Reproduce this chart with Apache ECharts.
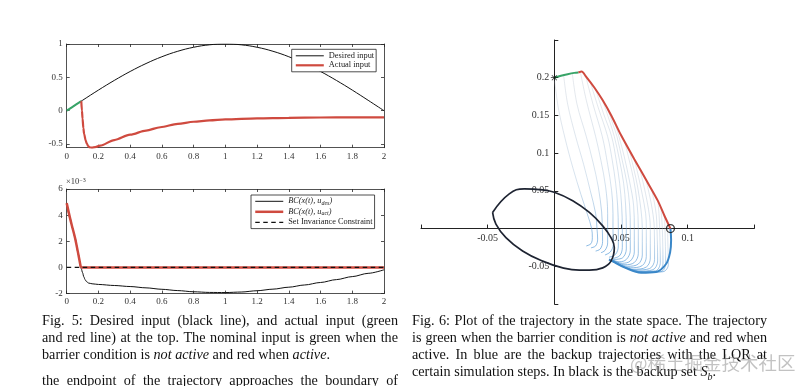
<!DOCTYPE html>
<html><head><meta charset="utf-8">
<script src="https://cdn.jsdelivr.net/npm/echarts@6/dist/echarts.min.js"></script>
<style>
html,body{margin:0;padding:0;background:#fff;}
#wrap{position:relative;width:809px;height:386px;overflow:hidden;background:#fff;}
#chart{position:absolute;left:0;top:0;width:809px;height:386px;}
.cap{position:absolute;font-family:'Liberation Serif','Times New Roman',serif;font-size:14.2px;line-height:17px;color:#111;}
.cap div{white-space:nowrap;}
.cap .j{text-align:justify;text-align-last:justify;}
.wm{position:absolute;left:630px;top:349px;font-family:'Noto Sans CJK SC',sans-serif;font-size:18.5px;color:rgba(120,120,120,0.45);white-space:nowrap;}
</style></head><body>
<div id="wrap">
<div id="chart"></div>
<div class="cap" style="left:42px;top:311.5px;width:356px">
  <div class="j">Fig. 5: Desired input (black line), and actual input (green</div>
  <div class="j">and red line) at the top. The nominal input is green when the</div>
  <div>barrier condition is <i>not active</i> and red when <i>active</i>.</div>
  <div class="j" style="margin-top:9px">the endpoint of the trajectory approaches the boundary of</div>
</div>
<div class="cap" style="left:412px;top:311.5px;width:355px">
  <div class="j">Fig. 6: Plot of the trajectory in the state space. The trajectory</div>
  <div class="j">is green when the barrier condition is <i>not active</i> and red when</div>
  <div class="j">active. In blue are the backup trajectories with the LQR at</div>
  <div>certain simulation steps. In black is the backup set <i>S<sub style="font-size:10px">b</sub></i>.</div>
</div>
<div class="wm">@稀土掘金技术社区</div>
</div>
<script>
const SERIF = "'Liberation Serif','Times New Roman',serif";

// ---------- Fig. 5 top: inputs ----------
const tDesired = [0,0.1,0.2,0.3,0.4,0.5,0.6,0.7,0.8,0.9,1.0,1.1,1.2,1.3,1.4,1.5,1.6,1.7,1.8,1.9,2.0];
const uDesired = [0,0.156,0.309,0.454,0.588,0.707,0.809,0.891,0.951,0.988,1.0,0.988,0.951,0.891,0.809,0.707,0.588,0.454,0.309,0.156,0.0];
const tActualGreen = [0,0.03,0.06,0.092];
const uActualGreen = [0,0.047,0.094,0.144];
const tActualRed = [0.092,0.096,0.1,0.105,0.11,0.12,0.126,0.135,0.145,0.158,0.18,0.21,0.3,0.4,0.5,0.59,0.7,0.8,0.9,1.0,1.2,1.4,1.6,1.8,2.0];
const uActualRed = [0.144,0.0,-0.12,-0.26,-0.35,-0.45,-0.49,-0.53,-0.55,-0.555,-0.545,-0.525,-0.44,-0.36,-0.298,-0.248,-0.198,-0.166,-0.146,-0.131,-0.115,-0.107,-0.102,-0.1,-0.1];
const topYTicks = [-0.5,0,0.5,1];

// ---------- Fig. 5 bottom: barrier condition (x 1e-3) ----------
const tBcAct = [0,0.021,0.037,0.053,0.074,0.088,0.092];
const bcAct = [4.92,3.77,3.0,2.24,0.97,0.08,0];
const tBcActFlat = [0.092,2.0];
const bcActFlat = [0,0];
const tBcDes = [0,0.021,0.037,0.053,0.074,0.088,0.092,0.1,0.108,0.116,0.125,0.137,0.16,0.2,0.3,0.4,0.5,0.6,0.7,0.8,0.9,1.0,1.1,1.2,1.3,1.4,1.5,1.6,1.7,1.8,1.9,2.0];
const bcDes = [4.92,3.77,3.0,2.24,0.97,0.08,-0.1,-0.4,-0.72,-0.94,-1.08,-1.19,-1.25,-1.3,-1.38,-1.46,-1.56,-1.67,-1.77,-1.86,-1.91,-1.92,-1.88,-1.78,-1.66,-1.51,-1.34,-1.15,-0.93,-0.7,-0.45,-0.18];
const tConstraint = [0,2];
const constraint = [0,0];

// ---------- Fig. 6: state space ----------
const trajGreen = [[0,0.2],[0.005,0.2026],[0.010,0.2047],[0.015,0.2064],[0.018,0.207]];
const trajRed = [[0.018,0.207],[0.0205,0.2082],[0.0238,0.2015],[0.030,0.187],[0.0363,0.170],[0.043,0.149],[0.050,0.124],[0.060,0.092],[0.0687,0.065],[0.0776,0.037],[0.0826,0.017],[0.0871,0]];
const startPoint = [[0,0.2]];
const endPoint = [[0.0871,0]];
const backupSet = [[-0.0463,0.0214],[-0.0338,0.046],[-0.0225,0.0527],[-0.0088,0.0513],[0,0.0481],[0.0138,0.037],[0.0263,0.0214],[0.0363,0.0036],[0.0425,-0.012],[0.045,-0.0254],[0.0425,-0.0432],[0.0363,-0.0521],[0.0263,-0.0552],[0.0188,-0.0552],[0.0063,-0.0521],[-0.0088,-0.0432],[-0.0238,-0.0298],[-0.0363,-0.012],[-0.0438,0.0059],[-0.0463,0.0214]];
const backupTrajectories = [
  [[0,0.2],[0.003,0.16],[0.008,0.12],[0.014,0.08],[0.020,0.045],[0.025,0.018],[0.028,0.0],[0.0285,-0.012],[0.0275,-0.020],[0.024,-0.023]],
  [[0.007,0.2033],[0.010,0.165],[0.016,0.122],[0.022,0.085],[0.027,0.05],[0.031,0.02],[0.032,0.0],[0.0325,-0.014],[0.031,-0.023],[0.0275,-0.0255]],
  [[0.0135,0.2058],[0.017,0.165],[0.024,0.122],[0.029,0.088],[0.033,0.055],[0.0355,0.022],[0.036,0.0],[0.0362,-0.017],[0.0345,-0.027],[0.031,-0.0298]],
  [[0.0195,0.208],[0.024,0.17],[0.031,0.122],[0.035,0.09],[0.0385,0.055],[0.040,0.02],[0.040,0.0],[0.040,-0.019],[0.038,-0.029],[0.035,-0.032]],
  [[0.0235,0.2025],[0.029,0.165],[0.036,0.122],[0.040,0.085],[0.043,0.05],[0.044,0.02],[0.044,0.0],[0.0442,-0.021],[0.042,-0.031],[0.038,-0.035]],
  [[0.027,0.194],[0.033,0.16],[0.040,0.122],[0.0435,0.09],[0.046,0.06],[0.0475,0.03],[0.048,0.0],[0.048,-0.023],[0.046,-0.034],[0.041,-0.038]],
  [[0.031,0.1845],[0.037,0.152],[0.043,0.122],[0.0465,0.09],[0.049,0.06],[0.0505,0.03],[0.051,0.0],[0.051,-0.025],[0.049,-0.036],[0.043,-0.040]],
  [[0.036,0.171],[0.041,0.145],[0.045,0.122],[0.049,0.09],[0.052,0.06],[0.0535,0.03],[0.054,0.0],[0.054,-0.027],[0.051,-0.039],[0.044,-0.041]],
  [[0.040,0.158],[0.044,0.138],[0.047,0.122],[0.051,0.09],[0.0545,0.06],[0.0565,0.03],[0.057,0.0],[0.057,-0.029],[0.054,-0.041],[0.049,-0.044],[0.044,-0.042]],
  [[0.045,0.142],[0.0485,0.122],[0.0525,0.095],[0.0565,0.062],[0.0595,0.03],[0.060,0.0],[0.060,-0.031],[0.057,-0.043],[0.051,-0.046],[0.044,-0.042]],
  [[0.0528,0.115],[0.056,0.092],[0.0595,0.065],[0.062,0.035],[0.063,0.0],[0.063,-0.033],[0.060,-0.045],[0.053,-0.048],[0.044,-0.042]],
  [[0.056,0.1048],[0.0595,0.08],[0.0625,0.055],[0.065,0.025],[0.066,0.0],[0.066,-0.035],[0.063,-0.047],[0.055,-0.050],[0.044,-0.043]],
  [[0.060,0.092],[0.063,0.07],[0.066,0.045],[0.0685,0.02],[0.069,0.0],[0.069,-0.037],[0.066,-0.049],[0.057,-0.052],[0.044,-0.043]],
  [[0.064,0.0796],[0.067,0.058],[0.0697,0.035],[0.0715,0.015],[0.072,0.0],[0.072,-0.039],[0.069,-0.051],[0.059,-0.054],[0.044,-0.043]],
  [[0.0687,0.065],[0.0713,0.045],[0.0735,0.025],[0.075,0.0],[0.0752,-0.041],[0.0715,-0.053],[0.061,-0.055],[0.052,-0.0505],[0.0435,-0.043]],
  [[0.073,0.0515],[0.075,0.035],[0.0765,0.018],[0.077,0.0],[0.0775,-0.043],[0.074,-0.0545],[0.063,-0.0565],[0.052,-0.051],[0.0435,-0.043]],
  [[0.0776,0.037],[0.0785,0.02],[0.079,0.0],[0.0795,-0.045],[0.076,-0.056],[0.064,-0.057],[0.052,-0.051],[0.0435,-0.043]],
  [[0.080,0.0274],[0.081,0.0],[0.0815,-0.046],[0.078,-0.0565],[0.066,-0.0575],[0.053,-0.0515],[0.0435,-0.043]],
  [[0.0826,0.017],[0.083,0.0],[0.0835,-0.047],[0.080,-0.057],[0.067,-0.058],[0.054,-0.052],[0.0435,-0.043]],
  [[0.085,0.0079],[0.085,0.0],[0.0855,-0.048],[0.0815,-0.0572],[0.068,-0.058],[0.054,-0.052],[0.0435,-0.043]],
  [[0.0871,0],[0.0876,-0.015],[0.0868,-0.032],[0.0838,-0.047],[0.0763,-0.0575],[0.065,-0.0585],[0.0538,-0.0525],[0.0438,-0.0435],[0.041,-0.041]]
];
const stateXTicksShown = [-0.05,0.05,0.1];
const stateYTicksShown = [-0.05,0.05,0.1,0.15,0.2];
const stateXRange = [-0.1, 0.15];
const stateYRange = [-0.1, 0.25];

// ---------- helpers ----------
const pairs = (xs, ys) => xs.map((x, i) => [x, ys[i]]);
const AX = '#262626';
function xAx(grid, pos, labels, extra) {
  return Object.assign({
    type: 'value', gridIndex: grid, position: pos, min: 0, max: 2, interval: 0.2,
    axisLine: {onZero: false, lineStyle: {color: AX, width: 0.8}},
    axisTick: {inside: true, length: 3, lineStyle: {color: AX, width: 0.8}},
    splitLine: {show: false},
    axisLabel: {show: labels, fontFamily: SERIF, fontSize: 9, color: '#333', margin: 4}
  }, extra || {});
}
function yAx(grid, pos, labels, extra) {
  return Object.assign({
    type: 'value', gridIndex: grid, position: pos,
    axisLine: {onZero: false, lineStyle: {color: AX, width: 0.8}},
    axisTick: {inside: true, length: 3, lineStyle: {color: AX, width: 0.8}},
    splitLine: {show: false},
    axisLabel: {show: labels, fontFamily: SERIF, fontSize: 9, color: '#333', margin: 4}
  }, extra || {});
}
function ln(name, xi, yi, data, color, width, extra) {
  return Object.assign({
    name: name, type: 'line', xAxisIndex: xi, yAxisIndex: yi, data: data,
    symbol: 'none', showSymbol: false, silent: true, animation: false,
    lineStyle: {color: color, width: width}, itemStyle: {color: color}
  }, extra || {});
}
const fmt = v => String(parseFloat(Number(v).toFixed(3)));
const has = (arr, v) => arr.some(a => Math.abs(a - v) < 1e-9);

const RED = '#cf4a3f', GREEN = '#38a468', BLACK = '#111';

// state-space grid geometry (axes sit on the zero lines, like MATLAB "origin" axes)
const G3 = {left: 421, top: 40, width: 333.3, height: 264};
const xAxisOffset = -G3.height * (0 - stateYRange[0]) / (stateYRange[1] - stateYRange[0]);
const yAxisOffset = -G3.width * (0 - stateXRange[0]) / (stateXRange[1] - stateXRange[0]);

const series = [];
// Fig 5 top
series.push(ln('Desired input', 0, 0, pairs(tDesired, uDesired), BLACK, 1, {smooth: 0.4}));
series.push(ln('greenActual', 0, 0, pairs(tActualGreen, uActualGreen), GREEN, 2));
series.push(ln('Actual input', 0, 0, pairs(tActualRed, uActualRed), RED, 2.2, {smooth: 0.3, smoothMonotone: 'x'}));
// Fig 5 bottom
series.push(ln('bcDes', 2, 2, pairs(tBcDes, bcDes), BLACK, 1, {smooth: 0.3, smoothMonotone: 'x'}));
series.push(ln('bcAct', 2, 2, pairs(tBcAct, bcAct), RED, 2.5, {smooth: 0.3}));
series.push(ln('bcActFlat', 2, 2, pairs(tBcActFlat, bcActFlat), RED, 2.5));
series.push(ln('Set Invariance Constraint', 2, 2, pairs(tConstraint, constraint), BLACK, 1.3, {lineStyle: {color: BLACK, width: 1.3, type: [4.5, 3.5]}}));
// Fig 6
const fanGrad = {type: 'linear', x: 0, y: 0, x2: 0, y2: 1, colorStops: [
  {offset: 0, color: 'rgba(178,186,198,0.45)'},
  {offset: 0.6, color: 'rgba(150,182,212,0.55)'},
  {offset: 1, color: 'rgba(60,140,210,0.9)'}]};
backupTrajectories.forEach((tr, i) => {
  const last = i === backupTrajectories.length - 1;
  series.push(ln('backup' + i, 4, 4, tr, last ? '#3a87c8' : fanGrad, last ? 2 : 0.7, {smooth: 0.35, z: 2}));
});
series.push(ln('backupSet', 4, 4, backupSet, '#1e2432', 1.7, {smooth: 0.45, z: 3}));
series.push(ln('trajRed', 4, 4, trajRed, RED, 2, {smooth: 0.25, z: 4}));
series.push(ln('trajGreen', 4, 4, trajGreen, GREEN, 2, {smooth: 0.3, z: 4}));
series.push({type: 'scatter', xAxisIndex: 4, yAxisIndex: 4, data: startPoint, silent: true, animation: false, z: 5,
  symbol: 'path://M4.5,0h1v10h-1z M0,4.5h10v1h-10z M1.1,1.8L1.8,1.1L8.9,8.2L8.2,8.9Z M8.2,1.1L8.9,1.8L1.8,8.9L1.1,8.2Z',
  symbolSize: 7, itemStyle: {color: '#000'}});
series.push({type: 'scatter', xAxisIndex: 4, yAxisIndex: 4, data: endPoint, silent: true, animation: false, z: 5,
  symbol: 'circle', symbolSize: 8, itemStyle: {color: 'rgba(0,0,0,0)', borderColor: '#111', borderWidth: 1.3}});

const legendCommon = {
  orient: 'vertical', selectedMode: false, backgroundColor: '#fff', borderColor: '#222', borderWidth: 0.8, borderRadius: 0,
  itemWidth: 28, itemGap: 1.5, itemStyle: {opacity: 0}, lineStyle: {width: 'inherit'}
};

const option = {
  backgroundColor: '#fff',
  animation: false,
  grid: [
    {left: 66.7, top: 44, width: 317.3, height: 103.7, outerBoundsMode: 'none', containLabel: false},
    {left: 66.7, top: 189, width: 317.3, height: 104.6, outerBoundsMode: 'none', containLabel: false},
    Object.assign({outerBoundsMode: 'none', containLabel: false}, G3)
  ],
  xAxis: [
    xAx(0, 'bottom', true),
    xAx(0, 'top', false),
    xAx(1, 'bottom', true),
    xAx(1, 'top', false),
    {
      type: 'value', gridIndex: 2, position: 'bottom', offset: xAxisOffset,
      min: stateXRange[0], max: stateXRange[1], interval: 0.05,
      axisLine: {onZero: false, lineStyle: {color: '#222', width: 1}},
      axisTick: {inside: true, length: 4, lineStyle: {color: '#222', width: 1}},
      splitLine: {show: false},
      axisLabel: {fontFamily: SERIF, fontSize: 10, color: '#333', margin: 5, showMinLabel: true, showMaxLabel: true,
        formatter: v => has(stateXTicksShown, v) ? fmt(v) : ''}
    }
  ],
  yAxis: [
    yAx(0, 'left', true, {min: -0.555, max: 1,
      axisLabel: {fontFamily: SERIF, fontSize: 9, color: '#333', margin: 4, customValues: topYTicks},
      axisTick: {inside: true, length: 3, lineStyle: {color: AX, width: 0.8}, customValues: topYTicks}}),
    yAx(0, 'right', false, {min: -0.555, max: 1,
      axisTick: {inside: true, length: 3, lineStyle: {color: AX, width: 0.8}, customValues: topYTicks}}),
    yAx(1, 'left', true, {min: -2, max: 6, interval: 2}),
    yAx(1, 'right', false, {min: -2, max: 6, interval: 2}),
    {
      type: 'value', gridIndex: 2, position: 'left', offset: yAxisOffset,
      min: stateYRange[0], max: stateYRange[1], interval: 0.05,
      axisLine: {onZero: false, lineStyle: {color: '#222', width: 1}},
      axisTick: {inside: true, length: 4, lineStyle: {color: '#222', width: 1}},
      splitLine: {show: false},
      axisLabel: {fontFamily: SERIF, fontSize: 10, color: '#333', margin: 5, showMinLabel: true, showMaxLabel: true,
        formatter: v => has(stateYTicksShown, v) ? fmt(v) : ''}
    }
  ],
  legend: [
    Object.assign({}, legendCommon, {
      data: ['Desired input', 'Actual input'], left: 291.7, top: 49.3, padding: [2.5, 2, 2.5, 3], itemHeight: 9.5,
      textStyle: {fontFamily: SERIF, fontSize: 8.4, color: '#222'}
    }),
    Object.assign({}, legendCommon, {
      data: ['bcDes', 'bcAct', 'Set Invariance Constraint'], left: 251, top: 195, padding: [2.3, 2, 2.3, 3], itemHeight: 8.5,
      formatter: function (name) {
        if (name === 'bcDes') return '{i|BC(x(t), u}{s|des}{i|)}';
        if (name === 'bcAct') return '{i|BC(x(t), u}{s|act}{i|)}';
        return '{n|' + name + '}';
      },
      textStyle: {fontFamily: SERIF, fontSize: 8.3, color: '#222', rich: {
        i: {fontFamily: SERIF, fontSize: 8.3, fontStyle: 'italic', color: '#222'},
        s: {fontFamily: SERIF, fontSize: 6, fontStyle: 'italic', color: '#222', verticalAlign: 'bottom', padding: [4, 0, 0, 0]},
        n: {fontFamily: SERIF, fontSize: 8.3, color: '#222'}
      }}
    })
  ],
  graphic: [
    {type: 'text', left: 66, top: 177, silent: true, style: {
      text: '{a|×10}{b|−3}',
      rich: {
        a: {fontFamily: SERIF, fontSize: 8.5, fill: '#333', color: '#333'},
        b: {fontFamily: SERIF, fontSize: 6, fill: '#333', color: '#333', verticalAlign: 'top', padding: [0, 0, 4, 0]}
      }
    }}
  ],
  series: series
};

const chart = echarts.init(document.getElementById('chart'), null, {renderer: 'canvas', width: 809, height: 386});
chart.setOption(option);
</script>
</body></html>
